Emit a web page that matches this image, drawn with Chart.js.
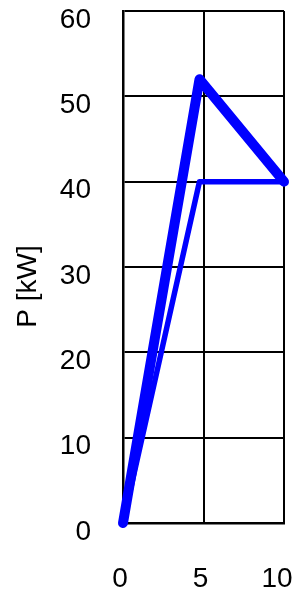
<!DOCTYPE html>
<html>
<head>
<meta charset="utf-8">
<script src="https://cdn.jsdelivr.net/npm/chart.js@4"></script>
<style>
  html, body { margin: 0; padding: 0; background: #fff; }
  #wrap { width: 292px; height: 592px; }
</style>
</head>
<body>
<div id="wrap"><canvas id="mycanvas" width="292" height="592"></canvas></div>
<script>
// values
var xValues = [0, 4.75, 10];
var pThick = [0, 52, 40];
var pThin = [0, 40, 40];
var xTicks = [0, 5, 10];
var yTicks = [0, 10, 20, 30, 40, 50, 60];
var yTitle = "P [kW]";

function toPoints(xs, ys) {
	var pts = [];
	for (var i = 0; i < xs.length; i++) {
		pts.push({x: xs[i], y: ys[i]});
	}
	return pts;
}

var font = {family: "'Liberation Sans', Arial, sans-serif", size: 28};

var ctx = document.getElementById("mycanvas");
var chart = new Chart(ctx, {
	type: 'line',
	data: {
		datasets: [
			{
				data: toPoints(xValues, pThick),
				borderColor: "#0000ff",
				borderWidth: 10,
				borderCapStyle: 'round',
				borderJoinStyle: 'round',
				pointRadius: 0,
				fill: false,
				clip: false
			},
			{
				data: toPoints(xValues, pThin),
				borderColor: "#0000ff",
				borderWidth: 5.5,
				borderCapStyle: 'round',
				borderJoinStyle: 'round',
				pointRadius: 0,
				fill: false,
				clip: false
			}
		]
	},
	options: {
		responsive: false,
		animation: false,
		layout: {padding: {left: 0, right: 8, top: 11, bottom: 0}},
		plugins: {legend: {display: false}, tooltip: {enabled: false}},
		scales: {
			x: {
				type: 'linear',
				min: 0,
				max: 10,
				afterBuildTicks: function(scale) {
					scale.ticks = xTicks.map(function(v) { return {value: v}; });
				},
				afterFit: function(scale) {
					scale.height = 69;
					scale.paddingLeft = 0;
					scale.paddingRight = 0;
				},
				grid: {color: "#000", lineWidth: 2, drawTicks: false},
				border: {color: "#000", width: 2.5},
				ticks: {
					color: "#000",
					font: font,
					padding: 39,
					labelOffset: -3,
					maxRotation: 0,
					callback: function(v) { return v === 10 ? '10 ' : String(v); }
				}
			},
			y: {
				min: 0,
				max: 60,
				afterBuildTicks: function(scale) {
					scale.ticks = yTicks.map(function(v) { return {value: v}; });
				},
				afterFit: function(scale) {
					scale.width = 123;
					scale.paddingTop = 0;
					scale.paddingBottom = 0;
				},
				grid: {color: "#000", lineWidth: 2, drawTicks: false},
				border: {color: "#000", width: 2.5},
				ticks: {color: "#000", font: font, padding: 32, labelOffset: 9},
				title: {
					display: true,
					text: yTitle + "     ",
					color: "#000",
					font: font,
					padding: {top: 11, bottom: 0}
				}
			}
		}
	}
});
</script>
</body>
</html>
